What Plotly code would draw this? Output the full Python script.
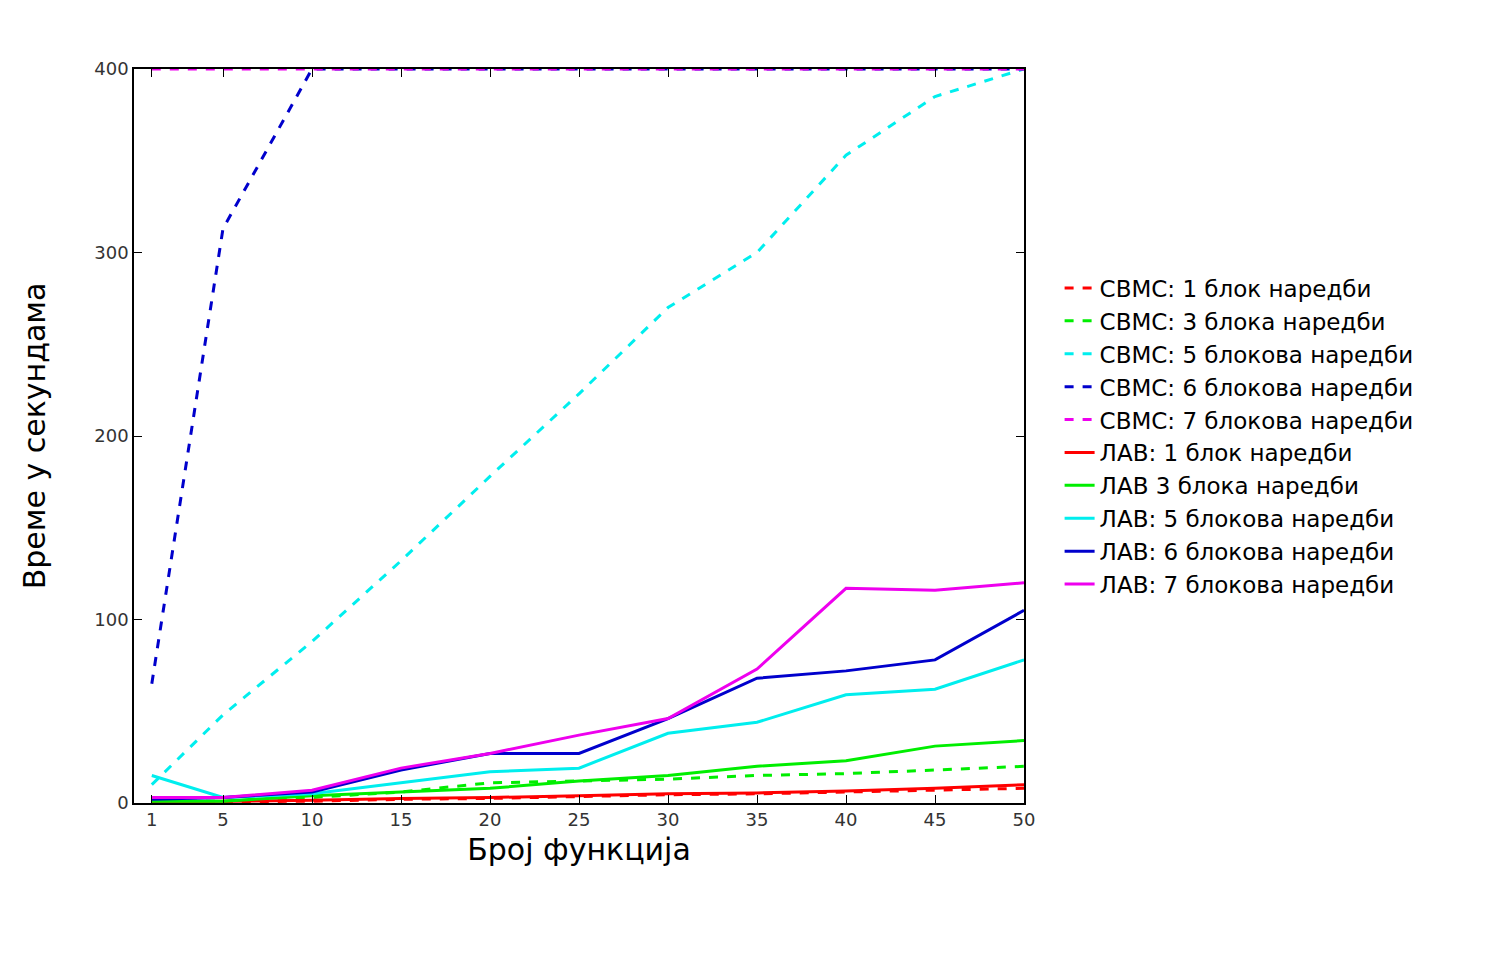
import plotly.graph_objects as go

x = [1, 5, 10, 15, 20, 25, 30, 35, 40, 45, 50]

svms_1 = [0.3, 0.5, 1, 2, 2.5, 3.5, 4.5, 5, 6, 7, 8]
svms_3 = [1, 1, 3, 6, 11, 12, 13, 15, 16, 18, 20]
svms_5 = [10, 48, 88, 132, 178, 223, 270, 300, 353, 385, 400]
svms_6 = [65, 313, 400, 400, 400, 400, 400, 400, 400, 400, 400]
svms_7 = [400, 400, 400, 400, 400, 400, 400, 400, 400, 400, 400]
lav_1 = [0.5, 0.8, 1.5, 2.5, 3, 4, 5, 5.5, 6.5, 8, 10]
lav_3 = [1, 1, 4, 6, 8, 12, 15, 20, 23, 31, 34]
lav_5 = [15, 3, 5, 11, 17, 19, 38, 44, 59, 62, 78]
lav_6 = [2, 3, 6, 18, 27, 27, 46, 68, 72, 78, 105]
lav_7 = [3, 3, 7, 19, 27, 37, 46, 73, 117, 116, 120]

series = [
    ("СВМС: 1 блок наредби", svms_1, "#ff0000", "dash"),
    ("СВМС: 3 блока наредби", svms_3, "#00ee00", "dash"),
    ("СВМС: 5 блокова наредби", svms_5, "#00eeee", "dash"),
    ("СВМС: 6 блокова наредби", svms_6, "#0000cc", "dash"),
    ("СВМС: 7 блокова наредби", svms_7, "#ee00ee", "dash"),
    ("ЛАВ: 1 блок наредби", lav_1, "#ff0000", "solid"),
    ("ЛАВ 3 блока наредби", lav_3, "#00ee00", "solid"),
    ("ЛАВ: 5 блокова наредби", lav_5, "#00eeee", "solid"),
    ("ЛАВ: 6 блокова наредби", lav_6, "#0000cc", "solid"),
    ("ЛАВ: 7 блокова наредби", lav_7, "#ee00ee", "solid"),
]

fig = go.Figure()
for name, y, color, dash in series:
    fig.add_trace(go.Scatter(x=x, y=y, name=name, mode="lines",
                             line=dict(color=color, dash=dash, width=3)))

axis_style = dict(showline=True, linecolor="black", linewidth=1.5, mirror="ticks",
                  ticks="inside", ticklen=8, tickcolor="black", showgrid=False,
                  zeroline=False, tickfont=dict(size=18, color="#333"))

fig.update_layout(
    width=1500, height=964,
    plot_bgcolor="white", paper_bgcolor="white",
    font=dict(family="DejaVu Sans", color="black"),
    margin=dict(l=126, r=484, t=61, b=169),
    xaxis=dict(range=[0, 50], tickvals=x,
               title=dict(text="Број функција", font=dict(size=30), standoff=10),
               **axis_style),
    yaxis=dict(range=[0, 400], tickvals=[0, 100, 200, 300, 400],
               title=dict(text="Време у секундама", font=dict(size=30), standoff=40),
               **axis_style),
    legend=dict(x=1.04, y=0.5, xanchor="left", yanchor="middle",
                font=dict(size=23), bgcolor="rgba(0,0,0,0)", tracegroupgap=0),
    showlegend=True,
)

fig.write_html("out.html")
